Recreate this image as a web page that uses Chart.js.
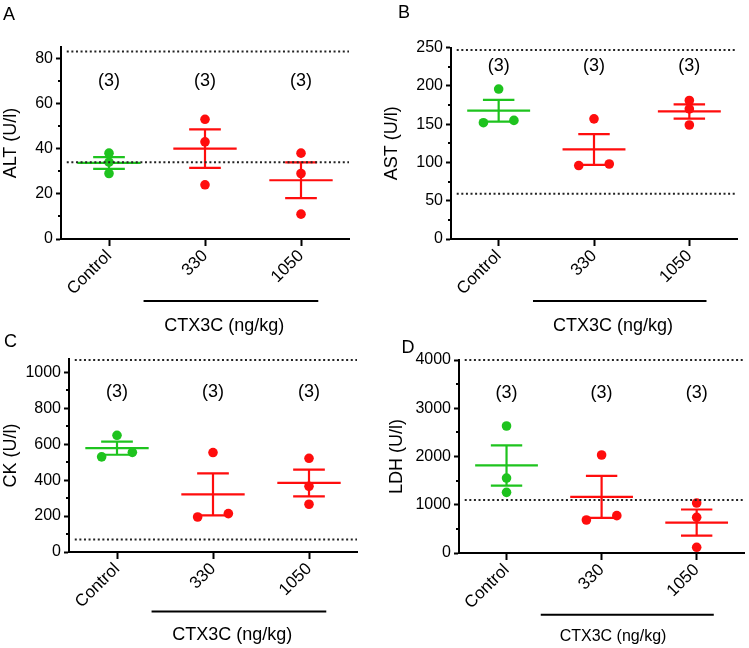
<!DOCTYPE html>
<html>
<head>
<meta charset="utf-8">
<script src="https://cdn.jsdelivr.net/npm/chart.js@4.4.1/dist/chart.umd.min.js"></script>
<style>
  html, body { margin: 0; padding: 0; background: #fff; }
  body { position: relative; width: 749px; height: 648px; overflow: hidden; }
  canvas { position: absolute; }
</style>
</head>
<body>
<canvas id="altChart" width="375" height="345" style="left:0;top:0"></canvas>
<canvas id="astChart" width="374" height="345" style="left:375px;top:0"></canvas>
<canvas id="ckChart" width="375" height="324" style="left:0;top:324px"></canvas>
<canvas id="ldhChart" width="374" height="324" style="left:375px;top:324px"></canvas>
<script>
const groups = ['Control', '330', '1050'];
const doseLabel = 'CTX3C (ng/kg)';

// individual animals, one array per group (Control, 330, 1050)
const altValues = [[38, 34, 29], [53, 43, 24], [38, 29, 11]];
const astValues = [[196, 152, 155], [157, 96, 98], [181, 170, 149]];
const ckValues = [[650, 530, 555], [554, 195, 214], [522, 366, 266]];
const ldhValues = [[2632, 1554, 1257], [2031, 684, 774], [1036, 740, 118]];

// reference range (dotted lines)
const altRange = [34, 83];
const astRange = [59, 247];
const ckRange = [70, 1070];
const ldhRange = [1100, 4000];

const altTicks = [0, 20, 40, 60, 80];
const astTicks = [0, 50, 100, 150, 200, 250];
const ckTicks = [0, 200, 400, 600, 800, 1000];
const ldhTicks = [0, 1000, 2000, 3000, 4000];

const groupColors = ['#1ec31e', '#ff0d0d', '#ff0d0d'];
const FONT = '"Liberation Sans", Arial, sans-serif';

function mean(a) {
    return a.reduce((s, v) => s + v, 0) / a.length;
}

function sem(a) {
    const m = mean(a);
    const v = a.reduce((s, x) => s + (x - m) * (x - m), 0) / (a.length - 1);
    return Math.sqrt(v / a.length);
}

// push dots sideways when two of them would sit on top of each other
function spread(vals, yMax) {
    const offs = vals.map(() => 0);
    const order = vals.map((v, i) => i).sort((a, b) => vals[a] - vals[b]);
    for (let k = 1; k < order.length; k++) {
        const lo = order[k - 1], hi = order[k];
        if (vals[hi] - vals[lo] < yMax * 0.035) {
            offs[lo] = -0.16;
            offs[hi] = 0.16;
        }
    }
    return offs;
}

function buildDatasets(values, range, yMax) {
    const sets = [];
    range.forEach(v => sets.push({
        type: 'line',
        showLine: true,
        data: [{ x: -0.44, y: v }, { x: 2.5, y: v }],
        borderColor: '#222',
        borderWidth: 2,
        borderDash: [2, 2.6],
        pointRadius: 0,
        clip: false,
        order: 0
    }));
    values.forEach((vals, i) => {
        const c = groupColors[i];
        const m = mean(vals), s = sem(vals);
        const gap = { x: i, y: null };
        sets.push({
            type: 'line',
            showLine: true,
            spanGaps: false,
            data: [
                { x: i - 0.33, y: m }, { x: i + 0.33, y: m }, gap,
                { x: i - 0.165, y: m + s }, { x: i + 0.165, y: m + s }, gap,
                { x: i, y: m + s }, { x: i, y: m - s }, gap,
                { x: i - 0.165, y: m - s }, { x: i + 0.165, y: m - s }
            ],
            borderColor: c,
            borderWidth: 2.2,
            pointRadius: 0,
            clip: false,
            order: 2
        });
        const offs = spread(vals, yMax);
        sets.push({
            type: 'scatter',
            data: vals.map((v, j) => ({ x: i + offs[j], y: v })),
            backgroundColor: c,
            borderWidth: 0,
            pointRadius: 4.8,
            clip: false,
            order: 1
        });
    });
    return sets;
}

const panels = [
    { id: 'altChart', values: altValues, range: altRange, yTicks: altTicks, yMax: 85, yTitle: 'ALT (U/l)',
      letter: 'A', letterAt: [3, 19.5], box: { x: 0, y: 0, w: 375, h: 345 }, area: { l: 61, t: 47, r: 349, b: 239 },
      nAt: 70, titlePad: 0, lineDy: 62, textDy: 87, textX: 1.2, groupFont: 18 },
    { id: 'astChart', values: astValues, range: astRange, yTicks: astTicks, yMax: 250, yTitle: 'AST (U/l)',
      letter: 'B', letterAt: [23, 17.5], box: { x: 375, y: 0, w: 374, h: 345 }, area: { l: 451, t: 47.7, r: 737, b: 239 },
      nAt: 226, titlePad: 6, lineDy: 62, textDy: 87, textX: 1.2, groupFont: 18 },
    { id: 'ckChart', values: ckValues, range: ckRange, yTicks: ckTicks, yMax: 1075, yTitle: 'CK (U/l)',
      letter: 'C', letterAt: [4, 22.7], box: { x: 0, y: 324, w: 375, h: 324 }, area: { l: 69, t: 359, r: 357, b: 552 },
      nAt: 889, titlePad: 0, lineDy: 59.5, textDy: 83, textX: 1.2, groupFont: 18 },
    { id: 'ldhChart', values: ldhValues, range: ldhRange, yTicks: ldhTicks, yMax: 4000, yTitle: 'LDH (U/l)',
      letter: 'D', letterAt: [26.5, 28.7], box: { x: 375, y: 324, w: 374, h: 324 }, area: { l: 459, t: 360, r: 748, b: 553 },
      nAt: 3306, titlePad: 11.5, lineDy: 61.7, textDy: 84, textX: 1.12, groupFont: 16 }
];

function extras(p) {
    return {
        id: 'extras_' + p.id,
        afterDraw(chart) {
            const { ctx, chartArea, scales } = chart;
            const x = scales.x, y = scales.y;
            ctx.save();
            ctx.fillStyle = '#000';
            ctx.strokeStyle = '#000';

            // minor ticks halfway between the labelled ones
            ctx.lineWidth = 2;
            for (let k = 1; k < p.yTicks.length; k++) {
                const py = Math.round(y.getPixelForValue((p.yTicks[k - 1] + p.yTicks[k]) / 2));
                ctx.beginPath();
                ctx.moveTo(chartArea.left - 3, py);
                ctx.lineTo(chartArea.left, py);
                ctx.stroke();
            }

            // panel letter
            ctx.font = '18px ' + FONT;
            ctx.textAlign = 'left';
            ctx.textBaseline = 'alphabetic';
            ctx.fillText(p.letter, p.letterAt[0], p.letterAt[1]);

            // n per group
            ctx.textAlign = 'center';
            ctx.textBaseline = 'middle';
            p.values.forEach((vals, i) => {
                ctx.fillText('(' + vals.length + ')', x.getPixelForValue(i), y.getPixelForValue(p.nAt));
            });

            // dose bracket + label
            const ly = chartArea.bottom + p.lineDy;
            ctx.lineWidth = 2;
            ctx.beginPath();
            ctx.moveTo(x.getPixelForValue(1 - 0.64), ly);
            ctx.lineTo(x.getPixelForValue(2 + 0.18), ly);
            ctx.stroke();
            ctx.font = p.groupFont + 'px ' + FONT;
            ctx.fillText(doseLabel, x.getPixelForValue(p.textX), chartArea.bottom + p.textDy);
            ctx.restore();
        }
    };
}

window.addEventListener('load', function () {
    panels.forEach(p => {
        const ctx = document.getElementById(p.id).getContext('2d');
        new Chart(ctx, {
            type: 'scatter',
            data: { datasets: buildDatasets(p.values, p.range, p.yMax) },
            options: {
                responsive: false,
                devicePixelRatio: 1,
                animation: false,
                layout: {
                    padding: { left: 0, bottom: 0, top: p.area.t - p.box.y, right: p.box.x + p.box.w - p.area.r }
                },
                plugins: {
                    legend: { display: false },
                    tooltip: { enabled: false }
                },
                scales: {
                    x: {
                        type: 'linear',
                        min: -0.5,
                        max: 2.5,
                        afterBuildTicks: s => { s.ticks = groups.map((g, i) => ({ value: i })); },
                        afterFit: s => { s.height = p.box.y + p.box.h - p.area.b; },
                        ticks: {
                            callback: v => groups[v],
                            minRotation: 45,
                            maxRotation: 45,
                            autoSkip: false,
                            padding: 0,
                            color: '#000',
                            font: { family: FONT, size: 17 }
                        },
                        grid: { drawOnChartArea: false, tickLength: 7, tickWidth: 2, tickColor: '#000' },
                        border: { color: '#000', width: 2 }
                    },
                    y: {
                        min: 0,
                        max: p.yMax,
                        afterBuildTicks: s => { s.ticks = p.yTicks.map(v => ({ value: v })); },
                        afterFit: s => { s.width = p.area.l - p.box.x; },
                        ticks: {
                            callback: v => String(v),
                            padding: 3,
                            color: '#000',
                            font: { family: FONT, size: 16 }
                        },
                        grid: { drawOnChartArea: false, tickLength: 5, tickWidth: 2, tickColor: '#000' },
                        border: { color: '#000', width: 2 },
                        title: {
                            display: true,
                            text: p.yTitle,
                            color: '#000',
                            padding: { top: p.titlePad, bottom: 0 },
                            font: { family: FONT, size: 18 }
                        }
                    }
                }
            },
            plugins: [extras(p)]
        });
    });
});
</script>
</body>
</html>
